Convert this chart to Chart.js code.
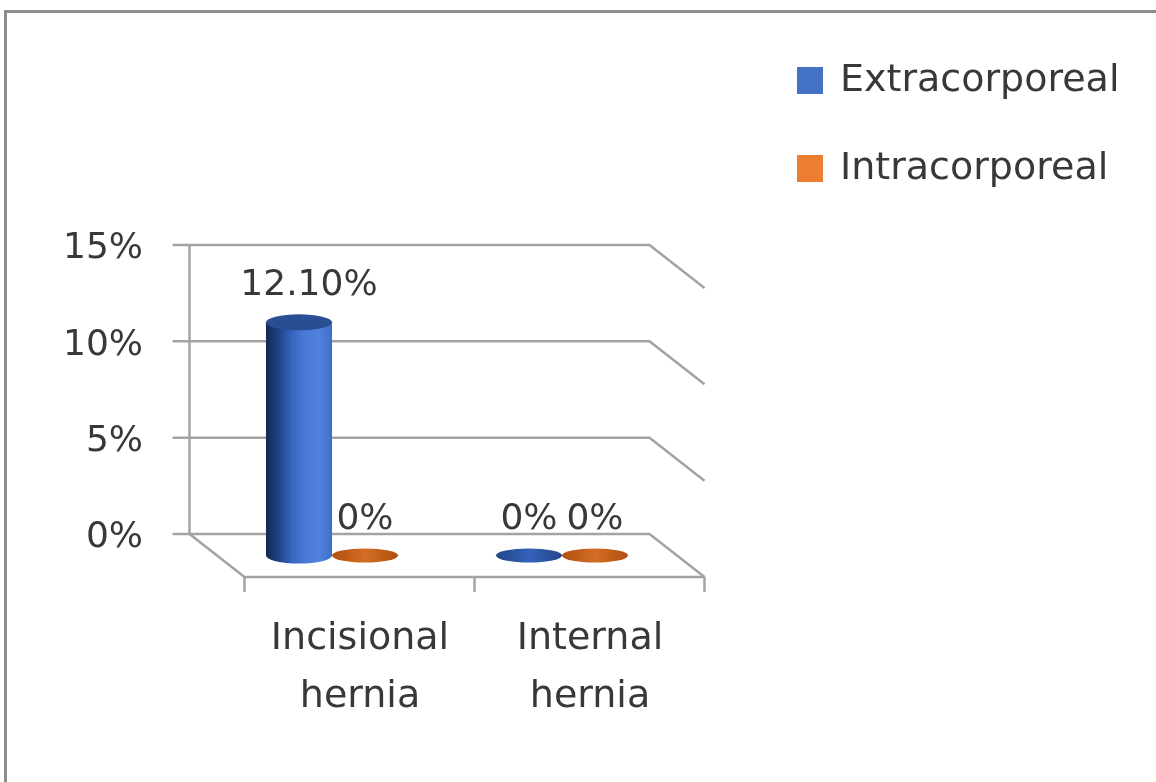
<!DOCTYPE html>
<html>
<head>
<meta charset="utf-8">
<title>Hernia</title>
<script src="https://cdn.jsdelivr.net/npm/chart.js@4.4.1/dist/chart.umd.min.js"></script>
<style>
  html, body { margin: 0; padding: 0; background: #fff; overflow: hidden; }
  #frame {
    position: absolute; left: 4px; top: 10px; right: -10px; bottom: -10px;
    border-top: 3px solid #8d8d8d; border-left: 3px solid #8d8d8d;
  }
  #chart { position: absolute; left: 0; top: 0; }
</style>
</head>
<body>
<div id="frame"></div>
<canvas id="chart" width="1156" height="782"></canvas>
<script>
// data
const categories = [["Incisional", "hernia"], ["Internal", "hernia"]]
const extracorporeal = [12.1, 0]
const intracorporeal = [0, 0]
const yTicks = [0, 5, 10, 15]

// fake 3D depth of the floor (px)
const DX = 55
const DY = 43
const PLOT_H = 289
const TEXT = "#383838"
const GRID = "#a3a3a3"

const yMin = yTicks[0]
const yMax = yTicks[yTicks.length - 1]
// bars stand half way into the floor, so their scale sits DY/2 lower
const barShift = (DY / 2) / PLOT_H * (yMax - yMin)

function fmt(v) {
  return v === 0 ? "0%" : v.toFixed(2) + "%"
}

const floorPlugin = {
  id: "floor",
  beforeDatasetsDraw(chart) {
    const { ctx, chartArea: a, scales } = chart
    const y = scales.y
    const backL = a.left - DX / 2
    const backR = a.right - DX / 2
    const y0 = y.getPixelForValue(yMin)
    ctx.save()
    ctx.strokeStyle = GRID
    ctx.lineWidth = 2.5
    ctx.lineJoin = "round"
    y.ticks.forEach((t) => {
      const py = y.getPixelForValue(t.value)
      ctx.beginPath()
      ctx.moveTo(backL - 17, py)
      ctx.lineTo(backR, py)
      ctx.lineTo(backR + DX, py + DY)
      ctx.stroke()
    })
    // axis line
    ctx.beginPath()
    ctx.moveTo(backL, y.getPixelForValue(yMax))
    ctx.lineTo(backL, y0)
    ctx.lineTo(backL + DX, y0 + DY)
    ctx.lineTo(backR + DX, y0 + DY)
    ctx.stroke()
    // category ticks on the front edge
    const n = chart.data.labels.length
    const cw = (a.right - a.left) / n
    for (let i = 0; i <= n; i++) {
      const px = a.left + i * cw + DX / 2
      ctx.beginPath()
      ctx.moveTo(px, y0 + DY)
      ctx.lineTo(px, y0 + DY + 15)
      ctx.stroke()
    }
    ctx.restore()
  },
}

const shades = [
  { body: ["#13284f", "#22448a", "#3767c0", "#4a7ad6", "#4f82de", "#416fc6"], top: "#2a4e93", flat: ["#23468a", "#3362b8", "#23468a"] },
  { body: ["#8f3f0a", "#b5530f", "#d06a20", "#db7a30", "#d06a20"], top: "#c05a14", flat: ["#b0500e", "#d26d24", "#b0500e"] },
]

function grad(ctx, x0, x1, stops) {
  const g = ctx.createLinearGradient(x0, 0, x1, 0)
  stops.forEach((c, i) => g.addColorStop(i / (stops.length - 1), c))
  return g
}

const cylinderPlugin = {
  id: "cylinders",
  afterDatasetsDraw(chart) {
    const { ctx } = chart
    const ry = 8
    ctx.save()
    chart.data.datasets.forEach((ds, di) => {
      const meta = chart.getDatasetMeta(di)
      const sh = shades[di]
      meta.data.forEach((bar, i) => {
        const rx = bar.width / 2
        const cx = bar.x
        if (Math.abs(bar.base - bar.y) < 1) {
          ctx.beginPath()
          ctx.ellipse(cx, bar.base, rx, ry - 1, 0, 0, Math.PI * 2)
          ctx.fillStyle = grad(ctx, cx - rx, cx + rx, sh.flat)
          ctx.fill()
        } else {
          ctx.beginPath()
          ctx.moveTo(cx - rx, bar.y)
          ctx.lineTo(cx - rx, bar.base)
          ctx.ellipse(cx, bar.base, rx, ry, 0, Math.PI, 0, true)
          ctx.lineTo(cx + rx, bar.y)
          ctx.closePath()
          ctx.fillStyle = grad(ctx, cx - rx, cx + rx, sh.body)
          ctx.fill()
          ctx.beginPath()
          ctx.ellipse(cx, bar.y, rx, ry, 0, 0, Math.PI * 2)
          ctx.fillStyle = sh.top
          ctx.fill()
        }
        // value label
        ctx.fillStyle = TEXT
        ctx.font = "36px 'DejaVu Sans'"
        ctx.textAlign = "center"
        ctx.textBaseline = "alphabetic"
        ctx.fillText(fmt(ds.data[i]), cx + (bar.base - bar.y > 1 ? 10 : 0), bar.y - 27)
      })
    })
    ctx.restore()
  },
}

const legendPlugin = {
  id: "sideLegend",
  afterDraw(chart) {
    const { ctx } = chart
    ctx.save()
    ctx.font = "38px 'DejaVu Sans'"
    ctx.textBaseline = "middle"
    ctx.textAlign = "left"
    chart.data.datasets.forEach((ds, i) => {
      const cy = 80 + i * 88
      ctx.fillStyle = ds.backgroundColor
      ctx.fillRect(797, cy - 13, 26, 27)
      ctx.fillStyle = TEXT
      ctx.fillText(ds.label, 840, cy + 1)
    })
    ctx.restore()
  },
}

new Chart(document.getElementById("chart").getContext("2d"), {
  type: "bar",
  data: {
    labels: categories,
    datasets: [
      { label: "Extracorporeal", data: extracorporeal, backgroundColor: "#4472C4", yAxisID: "yBar", categoryPercentage: 0.574, barPercentage: 1 },
      { label: "Intracorporeal", data: intracorporeal, backgroundColor: "#ED7D31", yAxisID: "yBar", categoryPercentage: 0.574, barPercentage: 1 },
    ],
  },
  options: {
    responsive: false,
    devicePixelRatio: 1,
    animation: false,
    layout: { padding: { left: 17, right: 479, top: 245, bottom: 48 } },
    plugins: { legend: { display: false }, tooltip: { enabled: false } },
    scales: {
      x: {
        grid: { display: false, drawTicks: false },
        border: { display: false },
        ticks: {
          color: TEXT,
          font: { family: "DejaVu Sans", size: 38, lineHeight: 1.53 },
          padding: 76,
          labelOffset: 28,
          maxRotation: 0,
          autoSkip: false,
        },
        afterFit: (s) => { s.height = 200 },
      },
      y: {
        position: "left",
        min: yMin,
        max: yMax,
        grid: { display: false, drawTicks: false },
        border: { display: false },
        ticks: {
          stepSize: yTicks[1] - yTicks[0],
          color: TEXT,
          font: { family: "DejaVu Sans", size: 36 },
          padding: 74,
          labelOffset: 4,
          callback: (v) => v + "%",
        },
        afterFit: (s) => { s.width = 200 },
      },
      yBar: {
        display: false,
        min: yMin + barShift,
        max: yMax + barShift,
      },
    },
  },
  plugins: [floorPlugin, cylinderPlugin, legendPlugin],
})
</script>
</body>
</html>
